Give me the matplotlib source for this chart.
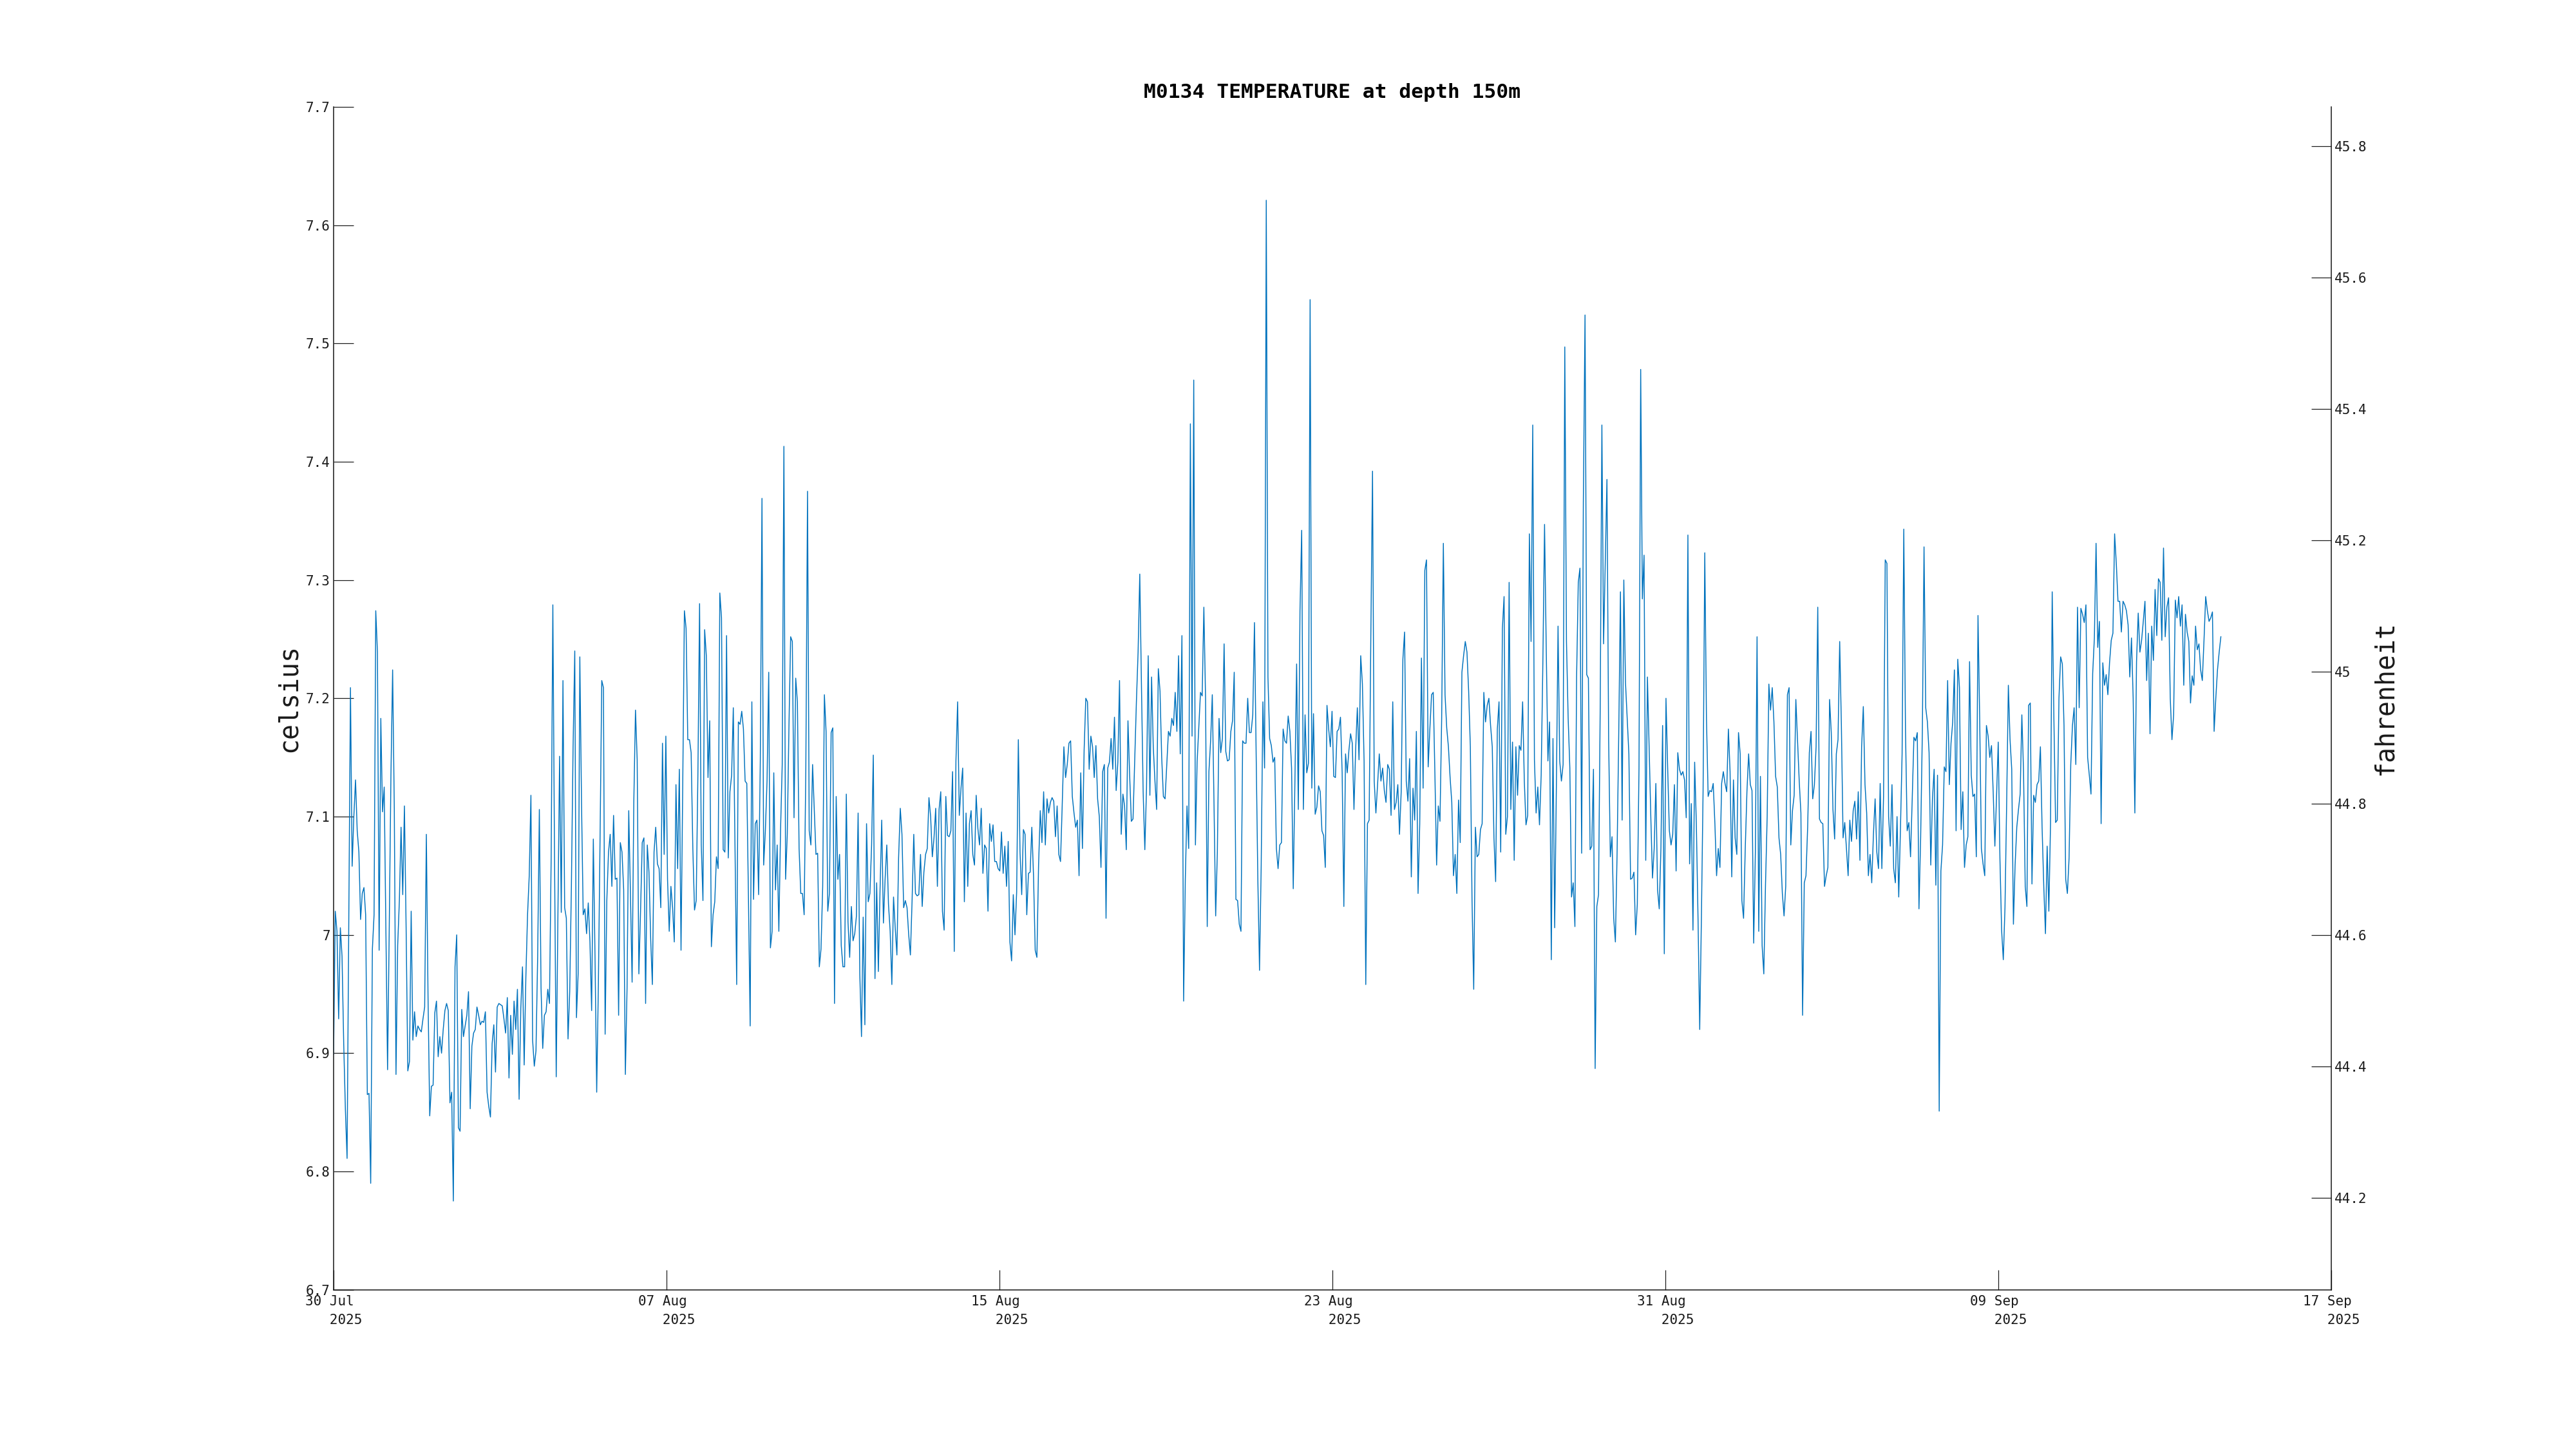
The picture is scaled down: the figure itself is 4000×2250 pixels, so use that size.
import numpy as np
import pandas as pd
import matplotlib
matplotlib.use("Agg")
import matplotlib.pyplot as plt

# ---------------- data (celsius, ~hourly) ----------------
seg01 = [6.899, 7.020, 7.003, 6.929, 7.006, 6.982, 6.908, 6.852, 6.811, 7.006,
         7.209, 7.058, 7.100, 7.131, 7.088, 7.070, 7.013, 7.035, 7.040, 7.017,
         6.865, 6.866, 6.790, 6.988, 7.017, 7.274, 7.239, 6.987, 7.183, 7.104,
         7.125, 7.006, 6.886, 7.006, 7.135, 7.224, 7.106, 6.882, 6.991, 7.029,
         7.091, 7.034, 7.109, 7.006, 6.885, 6.893, 7.020, 6.911, 6.935, 6.914,
         6.923, 6.920, 6.918, 6.929, 6.939, 7.085, 6.947, 6.847, 6.872, 6.873,
         6.934, 6.944, 6.897, 6.914, 6.900, 6.920, 6.936, 6.942, 6.936, 6.858,
         6.867, 6.775, 6.973, 7.000, 6.837, 6.834, 6.937, 6.914, 6.923, 6.932,
         6.952, 6.853, 6.906, 6.917, 6.920, 6.939, 6.932, 6.924, 6.927, 6.926,
         6.935, 6.867, 6.855, 6.846, 6.908, 6.924, 6.884, 6.939, 6.942]
seg02 = [6.941, 6.940, 6.929, 6.917, 6.947, 6.879, 6.932, 6.899, 6.944, 6.920,
         6.954, 6.861, 6.938, 6.973, 6.890, 6.964, 7.017, 7.050, 7.118, 6.911,
         6.889, 6.902, 6.982, 7.106, 6.955, 6.904, 6.932, 6.935, 6.954, 6.942,
         7.065, 7.279, 7.065, 6.880, 7.017, 7.151, 7.019, 7.215, 7.023, 7.014,
         6.912, 6.952, 7.041, 7.159, 7.240, 6.930, 6.967, 7.235, 7.112, 7.017,
         7.022, 7.001, 7.027, 6.994, 6.936, 7.081, 6.982, 6.867, 6.958, 7.082,
         7.215, 7.209, 6.916, 7.029, 7.070, 7.085, 7.041, 7.101, 7.047, 7.048,
         6.932, 7.078, 7.070, 7.038, 6.882, 6.955, 7.105, 7.035, 6.960, 7.112,
         7.190, 7.148, 6.967, 7.020, 7.078, 7.082, 6.942, 7.076, 7.053, 6.997,
         6.958, 7.070, 7.091, 7.060, 7.056, 7.023, 7.162, 7.068, 7.168, 7.047,
         7.003, 7.041]
seg03 = [7.023, 6.994, 7.127, 7.056, 7.140, 6.987, 7.124, 7.274, 7.259, 7.165,
         7.165, 7.154, 7.073, 7.021, 7.029, 7.135, 7.280, 7.076, 7.029, 7.258,
         7.236, 7.133, 7.181, 6.990, 7.017, 7.028, 7.066, 7.056, 7.289, 7.268,
         7.072, 7.070, 7.253, 7.065, 7.121, 7.135, 7.192, 7.076, 6.958, 7.180,
         7.178, 7.189, 7.174, 7.130, 7.128, 7.029, 6.923, 7.197, 7.030, 7.094,
         7.097, 7.034, 7.147, 7.369, 7.059, 7.088, 7.130, 7.222, 6.989, 7.003,
         7.137, 7.038, 7.076, 7.003, 7.088, 7.144, 7.413, 7.047, 7.085, 7.177,
         7.252, 7.248, 7.099, 7.217, 7.197, 7.073, 7.035, 7.035, 7.017, 7.141,
         7.375, 7.088, 7.076, 7.144, 7.106, 7.068, 7.069, 6.973, 6.988, 7.041,
         7.203, 7.172, 7.020, 7.035, 7.171, 7.175, 6.942, 7.117, 7.047, 7.068,
         6.991, 6.973, 6.973, 7.119]
seg04 = [7.011, 6.981, 7.024, 6.995, 7.001, 7.016, 7.103, 6.967, 6.914, 7.015,
         6.924, 7.094, 7.028, 7.035, 7.076, 7.152, 6.963, 7.044, 6.969, 7.038,
         7.097, 7.010, 7.047, 7.076, 7.026, 7.003, 6.958, 7.032, 7.006, 6.983,
         7.065, 7.107, 7.085, 7.023, 7.029, 7.023, 7.000, 6.983, 7.029, 7.085,
         7.035, 7.033, 7.034, 7.068, 7.024, 7.053, 7.068, 7.073, 7.116, 7.100,
         7.066, 7.082, 7.107, 7.041, 7.106, 7.121, 7.020, 7.004, 7.117, 7.084,
         7.083, 7.088, 7.138, 6.986, 7.147, 7.197, 7.101, 7.124, 7.141, 7.028,
         7.103, 7.041, 7.094, 7.105, 7.068, 7.059, 7.118, 7.090, 7.076, 7.107,
         7.052, 7.076, 7.073, 7.020, 7.094, 7.079, 7.093, 7.062, 7.062, 7.056,
         7.054, 7.087, 7.052, 7.075, 7.041, 7.079, 6.994, 6.978, 7.034, 7.000,
         7.036, 7.165, 7.070]
seg05 = [7.034, 7.089, 7.085, 7.017, 7.052, 7.053, 7.091, 7.050, 6.987, 6.981,
         7.059, 7.105, 7.078, 7.121, 7.076, 7.115, 7.103, 7.112, 7.116, 7.113,
         7.083, 7.109, 7.068, 7.062, 7.109, 7.159, 7.133, 7.144, 7.162, 7.164,
         7.117, 7.103, 7.091, 7.097, 7.050, 7.137, 7.073, 7.156, 7.200, 7.197,
         7.140, 7.168, 7.159, 7.133, 7.160, 7.115, 7.100, 7.057, 7.138, 7.144,
         7.014, 7.141, 7.146, 7.166, 7.140, 7.184, 7.122, 7.146, 7.215, 7.085,
         7.119, 7.109, 7.072, 7.181, 7.135, 7.096, 7.098, 7.147, 7.197, 7.239,
         7.305, 7.211, 7.121, 7.072, 7.124, 7.236, 7.118, 7.218, 7.159, 7.130,
         7.106, 7.225, 7.206, 7.150, 7.117, 7.115, 7.144, 7.172, 7.168, 7.183,
         7.177, 7.205, 7.172, 7.236, 7.153, 7.253, 6.944, 7.047, 7.109, 7.073,
         7.432, 7.168, 7.469]
seg06 = [7.076, 7.146, 7.176, 7.205, 7.202, 7.277, 7.200, 7.007, 7.138, 7.164,
         7.203, 7.112, 7.016, 7.070, 7.183, 7.154, 7.166, 7.246, 7.155, 7.147,
         7.148, 7.172, 7.181, 7.222, 7.030, 7.029, 7.009, 7.003, 7.164, 7.162,
         7.162, 7.200, 7.171, 7.171, 7.186, 7.264, 7.153, 7.047, 6.970, 7.059,
         7.197, 7.141, 7.621, 7.218, 7.166, 7.160, 7.146, 7.150, 7.073, 7.056,
         7.076, 7.078, 7.174, 7.164, 7.162, 7.185, 7.172, 7.141, 7.039, 7.131,
         7.229, 7.106, 7.274, 7.342, 7.106, 7.186, 7.137, 7.145, 7.537, 7.124,
         7.187, 7.102, 7.108, 7.126, 7.121, 7.088, 7.084, 7.057, 7.194, 7.174,
         7.159, 7.189, 7.134, 7.133, 7.172, 7.174, 7.184, 7.137, 7.024, 7.153,
         7.137, 7.156, 7.170, 7.162, 7.106, 7.157, 7.192, 7.148, 7.236, 7.212,
         7.147, 6.958, 7.094]
seg07 = [7.097, 7.253, 7.392, 7.130, 7.103, 7.127, 7.153, 7.130, 7.141, 7.122,
         7.112, 7.144, 7.140, 7.101, 7.197, 7.106, 7.112, 7.127, 7.085, 7.121,
         7.233, 7.256, 7.130, 7.113, 7.149, 7.049, 7.124, 7.097, 7.172, 7.035,
         7.094, 7.234, 7.124, 7.308, 7.317, 7.142, 7.174, 7.203, 7.205, 7.135,
         7.059, 7.109, 7.096, 7.183, 7.331, 7.203, 7.175, 7.159, 7.133, 7.112,
         7.050, 7.068, 7.035, 7.114, 7.078, 7.222, 7.236, 7.248, 7.239, 7.206,
         7.159, 7.029, 6.954, 7.091, 7.066, 7.068, 7.089, 7.094, 7.205, 7.180,
         7.194, 7.200, 7.177, 7.159, 7.082, 7.045, 7.174, 7.197, 7.070, 7.259,
         7.286, 7.085, 7.100, 7.298, 7.106, 7.163, 7.063, 7.159, 7.118, 7.160,
         7.156, 7.197, 7.130, 7.093, 7.101, 7.339, 7.248, 7.431, 7.148, 7.103,
         7.125, 7.093, 7.135]
seg08 = [7.230, 7.347, 7.242, 7.147, 7.180, 6.979, 7.166, 7.006, 7.124, 7.261,
         7.147, 7.130, 7.144, 7.497, 7.248, 7.183, 7.141, 7.032, 7.044, 7.007,
         7.218, 7.298, 7.310, 7.069, 7.366, 7.524, 7.220, 7.217, 7.072, 7.075,
         7.140, 6.887, 7.024, 7.034, 7.192, 7.431, 7.246, 7.316, 7.385, 7.165,
         7.066, 7.083, 7.014, 6.994, 7.068, 7.171, 7.290, 7.097, 7.300, 7.213,
         7.183, 7.153, 7.047, 7.048, 7.053, 7.000, 7.026, 7.141, 7.478, 7.284,
         7.321, 7.063, 7.218, 7.159, 7.100, 7.048, 7.073, 7.128, 7.038, 7.022,
         7.073, 7.177, 6.984, 7.200, 7.141, 7.088, 7.076, 7.085, 7.127, 7.054,
         7.154, 7.140, 7.135, 7.138, 7.131, 7.099, 7.338, 7.060, 7.111, 7.004,
         7.146, 7.094, 7.014, 6.920, 7.014, 7.122, 7.323, 7.183, 7.117, 7.122,
         7.121, 7.128, 7.094]
seg09 = [7.050, 7.073, 7.057, 7.128, 7.138, 7.128, 7.121, 7.174, 7.138, 7.049,
         7.131, 7.082, 7.068, 7.171, 7.153, 7.029, 7.014, 7.073, 7.121, 7.153,
         7.127, 7.122, 6.993, 7.070, 7.252, 7.003, 7.134, 6.991, 6.967, 7.042,
         7.100, 7.212, 7.190, 7.209, 7.180, 7.134, 7.125, 7.082, 7.068, 7.035,
         7.016, 7.041, 7.203, 7.209, 7.076, 7.105, 7.118, 7.199, 7.165, 7.130,
         7.103, 6.932, 7.044, 7.050, 7.091, 7.154, 7.172, 7.115, 7.127, 7.159,
         7.277, 7.098, 7.095, 7.094, 7.041, 7.050, 7.057, 7.199, 7.171, 7.106,
         7.081, 7.153, 7.165, 7.248, 7.177, 7.082, 7.095, 7.073, 7.050, 7.097,
         7.079, 7.105, 7.113, 7.081, 7.121, 7.063, 7.159, 7.193, 7.127, 7.103,
         7.050, 7.068, 7.044, 7.085, 7.115, 7.070, 7.056, 7.128, 7.056, 7.117,
         7.317, 7.314]
seg10 = [7.100, 7.075, 7.127, 7.056, 7.044, 7.100, 7.032, 7.088, 7.153, 7.343,
         7.174, 7.088, 7.095, 7.066, 7.115, 7.167, 7.164, 7.171, 7.022, 7.082,
         7.171, 7.328, 7.192, 7.180, 7.154, 7.059, 7.115, 7.140, 7.042, 7.135,
         6.851, 7.054, 7.076, 7.142, 7.138, 7.215, 7.127, 7.162, 7.180, 7.224,
         7.088, 7.233, 7.209, 7.089, 7.121, 7.057, 7.076, 7.083, 7.231, 7.135,
         7.117, 7.119, 7.066, 7.270, 7.183, 7.073, 7.060, 7.050, 7.177, 7.168,
         7.150, 7.160, 7.121, 7.075, 7.117, 7.163, 7.065, 7.004, 6.979, 7.023,
         7.112, 7.211, 7.165, 7.140, 7.009, 7.059, 7.091, 7.106, 7.119, 7.186,
         7.138, 7.041, 7.024, 7.194, 7.196, 7.043, 7.118, 7.112, 7.127, 7.130,
         7.159, 7.091, 7.041, 7.001, 7.075, 7.020, 7.094, 7.290, 7.183, 7.095,
         7.097, 7.200, 7.235, 7.229]
seg11 = [7.177, 7.047, 7.035, 7.065, 7.144, 7.177, 7.192, 7.144, 7.277, 7.192,
         7.276, 7.271, 7.264, 7.279, 7.150, 7.135, 7.119, 7.221, 7.251, 7.331,
         7.243, 7.265, 7.094, 7.230, 7.211, 7.220, 7.203, 7.230, 7.249, 7.255,
         7.339, 7.314, 7.282, 7.282, 7.256, 7.282, 7.279, 7.274, 7.262, 7.218,
         7.251, 7.200, 7.103, 7.231, 7.272, 7.239, 7.249, 7.265, 7.282, 7.215,
         7.255, 7.170, 7.261, 7.232, 7.292, 7.253, 7.301, 7.298, 7.249, 7.327,
         7.252, 7.277, 7.285, 7.200, 7.165, 7.186, 7.283, 7.268, 7.286, 7.261,
         7.279, 7.211, 7.271, 7.256, 7.248, 7.196, 7.219, 7.211, 7.261, 7.241,
         7.246, 7.224, 7.215, 7.249, 7.286, 7.274, 7.265, 7.268, 7.273, 7.172,
         7.200, 7.224, 7.239, 7.252]

record_start = "2025-07-30 00:00"
record_end = "2025-09-14 07:00"

title_text = "M0134 TEMPERATURE at depth 150m"
left_label = "celsius"
right_label = "fahrenheit"

x_start, x_end = "2025-07-30", "2025-09-17"
x_tick_dates = ["30 Jul", "07 Aug", "15 Aug", "23 Aug", "31 Aug", "09 Sep", "17 Sep"]
x_tick_year = "2025"
c_limits = (6.7, 7.7)
c_ticks = [6.7, 6.8, 6.9, 7.0, 7.1, 7.2, 7.3, 7.4, 7.5, 7.6, 7.7]
f_ticks = [44.2, 44.4, 44.6, 44.8, 45.0, 45.2, 45.4, 45.6, 45.8]

# ---------------- build ----------------
temp_c = np.concatenate([seg01, seg02, seg03, seg04, seg05, seg06,
                         seg07, seg08, seg09, seg10, seg11])
times = pd.date_range(record_start, record_end, periods=len(temp_c))
t0, t1 = pd.Timestamp(x_start), pd.Timestamp(x_end)
# ticks evenly divide the axis span (labels rounded to the day)
x_ticks = pd.date_range(t0, t1, periods=len(x_tick_dates))
x_ticklabels = [d + "\n   " + x_tick_year for d in x_tick_dates]

def c_to_f(c):
    return c * 9.0 / 5.0 + 32.0

plt.rcParams["font.family"] = ["DejaVu Sans Mono", "DejaVu Sans"]
text_col = "#1a1a1a"
line_col = "#0072BD"

fig = plt.figure(figsize=(16, 9), dpi=250)
ax = fig.add_axes([0.1295, 0.1099, 0.7755, 0.8164])
ax.plot(times, temp_c, color=line_col, lw=0.42)

ax.set_xlim(t0, t1)
ax.set_ylim(*c_limits)
ax.set_xticks(x_ticks)
ax.set_xticklabels(x_ticklabels)
ax.set_yticks(c_ticks)
ax.set_yticklabels(["%g" % v for v in c_ticks])

for s in ["top", "right"]:
    ax.spines[s].set_visible(False)
for s in ["left", "bottom"]:
    ax.spines[s].set_linewidth(0.45)
    ax.spines[s].set_color(text_col)

ax.tick_params(axis="both", direction="in", length=8.8, width=0.35,
               labelsize=6, colors=text_col)
ax.tick_params(axis="y", pad=1.5)
ax.tick_params(axis="x", pad=2.4)
for lab in ax.get_xticklabels():
    lab.set_multialignment("left")
    lab.set_linespacing(1.55)

ax.set_title(title_text, fontsize=9, fontweight="bold", color="black", pad=4)
ax.set_ylabel(left_label, fontsize=11.5, color=text_col, va="center")
ax.yaxis.set_label_coords(-0.0222, 0.5)

ax2 = ax.twinx()
ax2.set_ylim(c_to_f(c_limits[0]), c_to_f(c_limits[1]))
ax2.set_yticks(f_ticks)
ax2.set_yticklabels(["%g" % v for v in f_ticks])
for s in ["top", "left", "bottom"]:
    ax2.spines[s].set_visible(False)
ax2.spines["right"].set_linewidth(0.45)
ax2.spines["right"].set_color(text_col)
ax2.tick_params(axis="y", direction="in", length=8.8, width=0.35,
                labelsize=6, colors=text_col, pad=1.5)
ax2.set_ylabel(right_label, fontsize=11.5, color=text_col, va="center",
               rotation=90)
ax2.yaxis.set_label_coords(1.027, 0.5)

fig.savefig("out.png", dpi=250, facecolor="white")
